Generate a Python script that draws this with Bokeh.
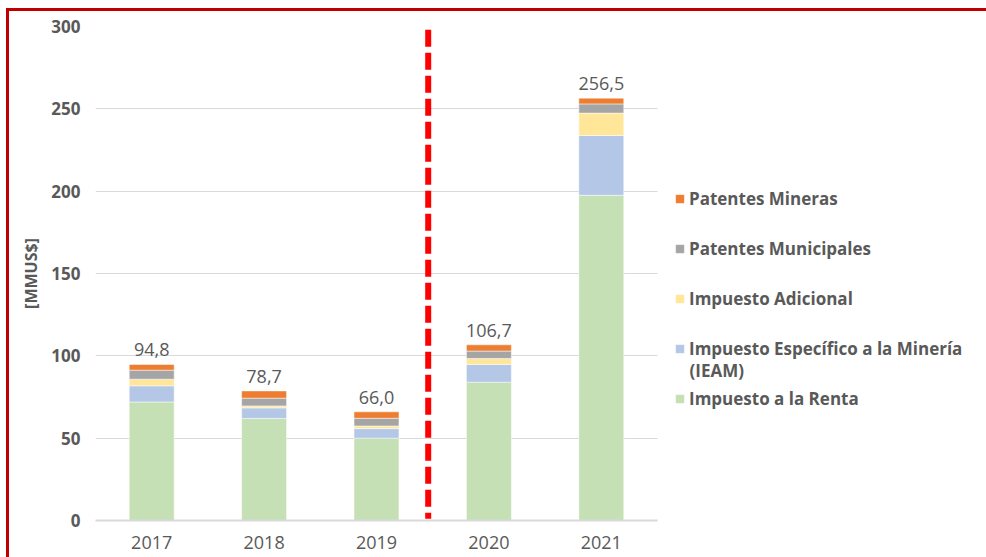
from bokeh.plotting import figure
from bokeh.models import Range1d, Legend, LegendItem, Label, ColumnDataSource, FixedTicker
from bokeh.core.properties import value
from bokeh.embed import file_html
from bokeh.resources import INLINE

# ---- data ----
years = ["2017", "2018", "2019", "2020", "2021"]
impuesto_renta = [72.0, 62.0, 50.0, 84.0, 197.5]
impuesto_ieam = [9.8, 6.4, 5.8, 10.8, 36.3]
impuesto_adicional = [4.0, 1.2, 1.6, 3.6, 13.6]
patentes_municipales = [5.5, 4.7, 4.7, 4.5, 5.6]
patentes_mineras = [3.5, 4.4, 3.9, 3.8, 3.5]

series_keys = ["renta", "ieam", "adicional", "municipales", "mineras"]
series_names = ["Impuesto a la Renta", "Impuesto Específico a la Minería", "Impuesto Adicional",
                "Patentes Municipales", "Patentes Mineras"]
series_colors = ["#C5E0B4", "#B4C7E7", "#FFE699", "#A5A5A5", "#ED7D31"]
y_ticks = [0, 50, 100, 150, 200, 250, 300]
split_after = "2019"  # red dashed divider between 2019 and 2020

totals = [round(a + b + c + d + e, 1) for a, b, c, d, e in
          zip(impuesto_renta, impuesto_ieam, impuesto_adicional, patentes_municipales, patentes_mineras)]
total_labels = [f"{t:.1f}".replace(".", ",") for t in totals]
x_pos = [i + 0.5 for i in range(len(years))]

src = ColumnDataSource(dict(
    x=x_pos, years=years, renta=impuesto_renta, ieam=impuesto_ieam, adicional=impuesto_adicional,
    municipales=patentes_municipales, mineras=patentes_mineras,
    totals=totals, total_labels=total_labels,
))

GRAY = "#595959"
W, H = 986, 557
LEFT, RIGHT_OF_BARS = 95, 657  # pixel extent of the category area
n = len(years)
x_end = n * (W - LEFT) / (RIGHT_OF_BARS - LEFT)

p = figure(width=W, height=H, x_range=Range1d(0, x_end), y_range=Range1d(0, 300),
           output_backend="svg", toolbar_location=None,
           min_border_left=LEFT, min_border_right=0, min_border_top=26, min_border_bottom=37)
p.outline_line_color = None
p.background_fill_color = "white"
p.border_fill_alpha = 0
p.styles = {
    "background-image": "linear-gradient(#C00000, #C00000), linear-gradient(#C00000, #C00000)",
    "background-size": "100% 3px, 3px 100%",
    "background-position": "6px 8px, 6px 8px",
    "background-repeat": "no-repeat",
}

renderers = p.vbar_stack(series_keys, x="x", width=0.4, color=series_colors,
                         line_color="white", line_width=0.5, source=src)

# data labels
p.text(x="x", y="totals", text="total_labels", source=src, text_align="center",
       text_baseline="bottom", y_offset=-8, text_color=GRAY, text_font_size="18px",
       text_font=value("Open Sans"))

# divider
split_x = years.index(split_after) + 1 - 0.04
p.segment(x0=[split_x], x1=[split_x], y0=[298], y1=[1], line_color="#FF0000",
          line_width=6, line_dash="17 6")

# axes
p.yaxis.ticker = y_ticks
p.yaxis.axis_line_color = None
p.yaxis.major_tick_line_color = None
p.yaxis.minor_tick_line_color = None
p.yaxis.major_label_text_font = "Open Sans"
p.yaxis.major_label_text_font_style = "bold"
p.yaxis.major_label_text_font_size = "17px"
p.yaxis.major_label_text_color = GRAY
p.yaxis.major_label_standoff = 9
p.yaxis.axis_label = "[MMUS$]"
p.yaxis.axis_label_text_font = "Open Sans"
p.yaxis.axis_label_text_font_style = "bold"
p.yaxis.axis_label_text_font_size = "16px"
p.yaxis.axis_label_text_color = GRAY
p.yaxis.axis_label_standoff = 6

p.xaxis.ticker = FixedTicker(ticks=x_pos)
p.xaxis.major_label_overrides = {x: y for x, y in zip(x_pos, years)}
p.xaxis.bounds = (0, n)
p.xaxis.axis_line_color = "#D9D9D9"
p.xaxis.axis_line_width = 2
p.xaxis.major_tick_line_color = None
p.xaxis.minor_tick_line_color = None
p.xaxis.major_label_text_font = "Open Sans"
p.xaxis.major_label_text_font_size = "18px"
p.xaxis.major_label_text_color = GRAY
p.xaxis.major_label_standoff = 9

p.xgrid.grid_line_color = None
p.ygrid.grid_line_color = "#D9D9D9"
p.ygrid.grid_line_width = 1
p.ygrid.cross_bounds = (0, n)

# legend (top to bottom: reverse stack order)
items = [LegendItem(label=series_names[i], renderers=[renderers[i]]) for i in reversed(range(5))]
legend = Legend(items=items, location=(579, 110), orientation="vertical",
                glyph_width=11, glyph_height=11, label_standoff=4, spacing=27,
                label_height=20, padding=0, margin=0, border_line_color=None,
                background_fill_alpha=0, label_text_font="Open Sans",
                label_text_font_style="bold", label_text_font_size="17px",
                label_text_color=GRAY)
p.add_layout(legend, "center")

p.add_layout(Label(x=5.285, y=90.9, text="(IEAM)", text_font="Open Sans",
                   text_font_style="bold", text_font_size="17px", text_color=GRAY,
                   text_baseline="middle", text_align="left"))

open("out.html", "w").write(file_html(p, INLINE))
